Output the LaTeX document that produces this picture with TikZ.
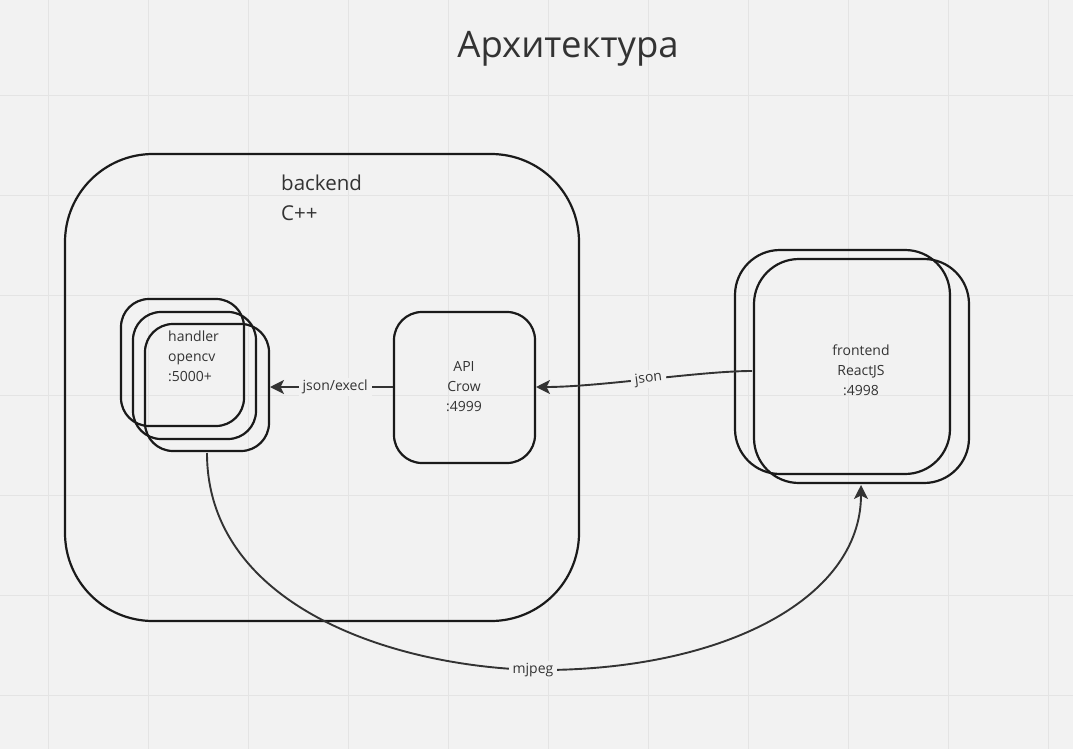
\documentclass[tikz,border=0pt]{standalone}
\usepackage{fontspec}
\setmainfont{Open Sans}
\usetikzlibrary{arrows.meta}
\definecolor{bg}{HTML}{F2F2F2}
\definecolor{gridc}{HTML}{E4E4E4}
\definecolor{boxc}{HTML}{1A1A1A}
\definecolor{txt}{HTML}{333333}
\tikzset{
  box/.style={draw=boxc, line width=2.2pt, rectangle, inner sep=0pt},
  conn/.style={draw=txt, line width=1.9pt, -{Stealth[length=14pt,width=14pt,inset=3.5pt]}},
  lbl/.style={fill=bg, text=txt, inner xsep=4pt, inner ysep=2pt, font=\fontsize{14}{16}\selectfont},
  body/.style={text=txt, inner sep=0pt, font=\fontsize{14}{20}\selectfont},
}
\begin{document}
\begin{tikzpicture}[x=1pt,y=-1pt]
\useasboundingbox (0,0) rectangle (1073,749);
\fill[bg] (0,0) rectangle (1073,749);
\foreach \i in {0,...,10} \draw[gridc, line width=1pt] (48.5+100*\i,0) -- (48.5+100*\i,749);
\foreach \j in {0,...,6} \draw[gridc, line width=1pt] (0,95.5+100*\j) -- (1073,95.5+100*\j);

\node[text=txt, font=\fontsize{36.5}{40}\selectfont] (title) at (568,49) {Архитектура};

% backend
\node[box, rounded corners=88pt, minimum width=514pt, minimum height=467pt] (backend) at (322,387.5) {};
\node[text=txt, inner sep=0pt, anchor=west, align=left, font=\fontsize{20.5}{30}\selectfont] (backendlbl) at (281,198) {backend\\C++};

% handler stack
\node[box, rounded corners=28pt, minimum width=123pt, minimum height=127pt] (h1) at (182.5,362.5) {};
\node[box, rounded corners=28pt, minimum width=123pt, minimum height=127pt] (h2) at (194.5,375.5) {};
\node[box, rounded corners=28pt, minimum width=124pt, minimum height=127pt] (h3) at (207,387.5) {};
\node[body, anchor=west, align=left] (htext) at (168,356) {handler\\opencv\\:5000+};

% API
\node[box, rounded corners=28pt, minimum width=141pt, minimum height=151pt] (api) at (464.5,387.5) {};
\node[body, align=center] (apitext) at (464,387) {API\\Crow\\:4999};

% frontend
\node[box, rounded corners=45pt, minimum width=215pt, minimum height=224pt] (f1) at (842.5,362) {};
\node[box, rounded corners=45pt, minimum width=215pt, minimum height=224pt] (f2) at (861.5,371) {};
\node[body, align=center] (ftext) at (861,370) {frontend\\ReactJS\\:4998};

% connectors
\coordinate (apiw) at (393,387);
\coordinate (h3e) at (270,387);
\draw[conn] (apiw) -- node[lbl, pos=0.47] {json/execl} (h3e);

\coordinate (fw) at (752,371);
\coordinate (apie) at (536,387);
\draw[conn] (fw) .. controls (700,371) and (600,387) .. node[lbl, pos=0.5, rotate=7] {json} (apie);

\coordinate (hs) at (207,453);
\coordinate (mj) at (533,670);
\coordinate (fs) at (861,485);
\draw[conn] (hs) .. controls (207,600) and (380,665) .. (mj) .. controls (720,672) and (861,600) .. (fs);
\node[lbl] (mjlbl) at (mj) {mjpeg};
\end{tikzpicture}
\end{document}
